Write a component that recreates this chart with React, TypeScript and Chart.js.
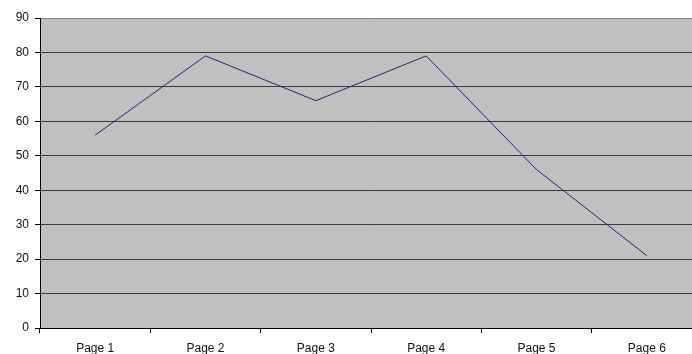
import React, { useEffect, useRef } from "react";
import { Chart, registerables } from "chart.js";

Chart.register(...registerables);

const categories = ["Page 1", "Page 2", "Page 3", "Page 4", "Page 5", "Page 6"];
const values = [56, 79, 66, 79, 46, 21];
const yMin = 0;
const yMax = 90;
const yStep = 10;

const bgPlugin = {
  id: "plotBg",
  beforeDraw(chart: any) {
    const { ctx, chartArea } = chart;
    if (!chartArea) return;
    ctx.save();
    ctx.fillStyle = "#c0c0c0";
    ctx.fillRect(chartArea.left, chartArea.top, chartArea.right - chartArea.left, chartArea.bottom - chartArea.top);
    ctx.restore();
  },
};

export default function App() {
  const ref = useRef<HTMLCanvasElement | null>(null);
  useEffect(() => {
    if (!ref.current) return;
    const chart = new Chart(ref.current, {
      type: "line",
      data: {
        labels: categories,
        datasets: [
          {
            data: values,
            borderColor: "#23237a",
            borderWidth: 1,
            pointRadius: 0,
            tension: 0,
            fill: false,
          },
        ],
      },
      options: {
        animation: false,
        responsive: false,
        devicePixelRatio: 1,
        layout: { padding: { top: 18, right: 10, left: 0, bottom: 0 } },
        plugins: { legend: { display: false }, tooltip: { enabled: false } },
        scales: {
          x: {
            type: "category",
            offset: true,
            grid: {
              offset: true,
              drawOnChartArea: false,
              drawTicks: true,
              tickLength: 5,
              color: "#000",
            },
            border: { color: "#000", width: 1 },
            ticks: {
              color: "#111",
              padding: 8,
              maxRotation: 0,
              autoSkip: false,
              font: { family: "'Liberation Sans', Arial, sans-serif", size: 12 },
            },
            afterFit(scale: any) {
              scale.height = 26;
            },
          },
          y: {
            min: yMin,
            max: yMax,
            ticks: {
              stepSize: yStep,
              color: "#111",
              padding: 6,
              font: { family: "'Liberation Sans', Arial, sans-serif", size: 12 },
            },
            grid: {
              color: (c: any) => (c.tick && c.tick.value === yMax ? "#808080" : "#3a3a3a"),
              lineWidth: 1,
              tickLength: 5,
              tickColor: "#000",
            },
            border: { color: "#000", width: 1 },
            afterFit(scale: any) {
              scale.width = 40;
            },
          },
        },
      },
      plugins: [bgPlugin],
    });
    return () => chart.destroy();
  }, []);
  return (
    <div style={{ position: "absolute", left: 0, top: 0, width: 692, height: 354, overflow: "hidden", background: "#fff" }}>
      <canvas ref={ref} width={712} height={354} style={{ display: "block" }} />
    </div>
  );
}
